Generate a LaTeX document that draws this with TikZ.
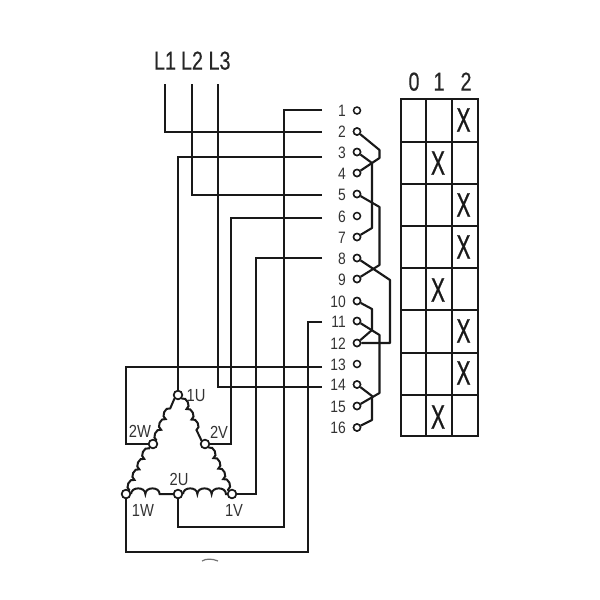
\documentclass[tikz,border=0pt]{standalone}
\usepackage{fontspec}
\setmainfont{Liberation Sans}
\newfontfamily\headfont[FakeStretch=0.76,FakeBold=0.25]{Liberation Sans}
\newfontfamily\numfont[FakeStretch=0.84]{Liberation Sans}
\newfontfamily\crossfont[FakeStretch=0.62,FakeBold=0.6]{Liberation Sans}
\usetikzlibrary{decorations}
\pgfdeclaredecoration{scallop}{bump}{
  \state{bump}[switch if less than=\pgfdecorationsegmentlength to final,width=\pgfdecorationsegmentlength]{
    \pgfpathcurveto{\pgfqpoint{0pt}{\pgfdecorationsegmentamplitude}}
      {\pgfqpoint{\pgfdecorationsegmentlength}{\pgfdecorationsegmentamplitude}}
      {\pgfqpoint{\pgfdecorationsegmentlength}{0pt}}
  }
  \state{final}{\pgfpathlineto{\pgfpointdecoratedpathlast}}
}
\tikzset{
  wire/.style={line width=2.1pt,color=black!90,line join=miter},
  bridge/.style={line width=2.1pt,color=black!90,line join=round},
  term/.style={circle,draw=black!90,line width=1.5pt,fill=white,minimum size=7pt,inner sep=0pt},
  junc/.style={circle,draw=black!90,line width=1.6pt,fill=white,minimum size=8.5pt,inner sep=0pt},
  num/.style={anchor=mid east,inner sep=0pt,font=\fontsize{16.5}{16.5}\selectfont\numfont,text=black!80},
  wlabel/.style={inner sep=0pt,font=\fontsize{17.5}{17.5}\selectfont\numfont,text=black!80},
  head/.style={inner sep=0pt,anchor=mid,font=\fontsize{26}{26}\selectfont\headfont,text=black!85},
  cross/.style={inner sep=0pt,font=\fontsize{34}{34}\selectfont\crossfont,text=black!90},
  grid/.style={line width=1.9pt,color=black!90},
  sidecoil/.style={line width=2pt,color=black!90,decorate,decoration={scallop,segment length=11.6pt,amplitude=5.5pt}},
  basecoil/.style={line width=2pt,color=black!90,decorate,decoration={scallop,segment length=14.3pt,amplitude=7.5pt}}
}
\begin{document}
\begin{tikzpicture}[x=1pt,y=-1pt]
\useasboundingbox (0,0) rectangle (600,600);
% terminals and numbers
\foreach \n/\y in {1/110.5,2/131.5,3/152,4/173,5/194,6/216,7/237,8/258,9/279,10/301,11/321,12/343,13/364,14/384.5,15/406,16/427.5}{
  \node[term] (t\n) at (357,\y) {};
  \node[num] (n\n) at (346,\y+3.4) {\n};
}
% line labels
\node[head] (L1) at (165,67) {L1};
\node[head] (L2) at (192,67) {L2};
\node[head] (L3) at (219.5,67) {L3};
% free wire ends
\coordinate (w1) at (322,110);
\coordinate (w2) at (322,132);
\coordinate (w3) at (322,157);
\coordinate (w5) at (322,195);
\coordinate (w6) at (322,218);
\coordinate (w8) at (322,258);
\coordinate (w11) at (322,322);
\coordinate (w13) at (322,367);
\coordinate (w14) at (322,387);
% motor terminals
\node[junc] (U1) at (178,395) {};
\node[junc] (W2) at (153,444) {};
\node[junc] (V2) at (205,444) {};
\node[junc] (W1) at (126,494) {};
\node[junc] (U2) at (178,494) {};
\node[junc] (V1) at (232,494) {};
% coils
\draw[sidecoil] (W2.north east) -- (U1.south west);
\draw[sidecoil] (W1.north east) -- (W2.south west);
\draw[basecoil] (W1.east) -- (U2.west);
\draw[basecoil] (U2.east) -- (V1.west);
\draw[sidecoil] (V2.south east) -- (V1.north west);
\draw[sidecoil] (U1.south east) -- (V2.north west);
% wiring
\draw[wire] (165,84) -- (165,132) -- (w2);
\draw[wire] (192,84) -- (192,195) -- (w5);
\draw[wire] (218,84) -- (218,387) -- (w14);
\draw[wire] (w1) -- (284,110) -- (284,527) -- (178,527) -- (U2);
\draw[wire] (w3) -- (178,157) -- (U1);
\draw[wire] (w6) -- (231,218) -- (231,444) -- (V2);
\draw[wire] (w8) -- (256,258) -- (256,494) -- (V1);
\draw[wire] (w11) -- (308,322) -- (308,552) -- (126,552) -- (W1);
\draw[wire] (w13) -- (126,367) -- (126,444) -- (W2);
% redraw motor terminals above wires
\foreach \a in {U1,W2,V2,W1,U2,V1}{\node[junc] at (\a) {};}
% contact bridges
\draw[bridge] (t2) -- (379.5,150) -- (379.5,158) -- (t4);
\draw[bridge] (t3) -- (372,163) -- (372,228) -- (t7);
\draw[bridge] (t5) -- (379.5,207) -- (379.5,265) -- (t9);
\draw[bridge] (t8) -- (390,280) -- (390,343) -- (t12);
\draw[bridge] (t10) -- (372,309) -- (372,330) -- (t12);
\draw[bridge] (t11) -- (379.5,335) -- (379.5,393) -- (t15);
\draw[bridge] (t14) -- (372,396) -- (372,420) -- (t16);
\foreach \n in {2,3,4,5,7,8,9,10,11,12,14,15,16}{\node[term] at (t\n) {};}
% motor labels
\node[wlabel] (lU1) at (196,395.5) {1U};
\node[wlabel] (lW2) at (140,431.5) {2W};
\node[wlabel] (lV2) at (219,432) {2V};
\node[wlabel] (lU2) at (179,479) {2U};
\node[wlabel] (lW1) at (143,510) {1W};
\node[wlabel] (lV1) at (234,510) {1V};
% table
\node[head] (h0) at (414,88) {0};
\node[head] (h1) at (439,88) {1};
\node[head] (h2) at (466,88) {2};
\draw[grid] (401,99) rectangle (478,436);
\foreach \x in {426,452}{\draw[grid] (\x,99) -- (\x,436);}
\foreach \y in {142,184,226,268,310,353,395}{\draw[grid] (401,\y) -- (478,\y);}
\foreach \i/\x/\y in {1/463.5/120,2/438/163,3/463.5/205,4/463.5/247,5/438/290,6/463.5/331,7/463.5/373,8/438/417}{
  \node[cross] (x\i) at (\x,\y) {X};
}
% smudge at the bottom edge
\draw[black!55,line width=1.2pt] (202,561) .. controls (206,558.5) and (212,558.5) .. (218,561);
\end{tikzpicture}
\end{document}
